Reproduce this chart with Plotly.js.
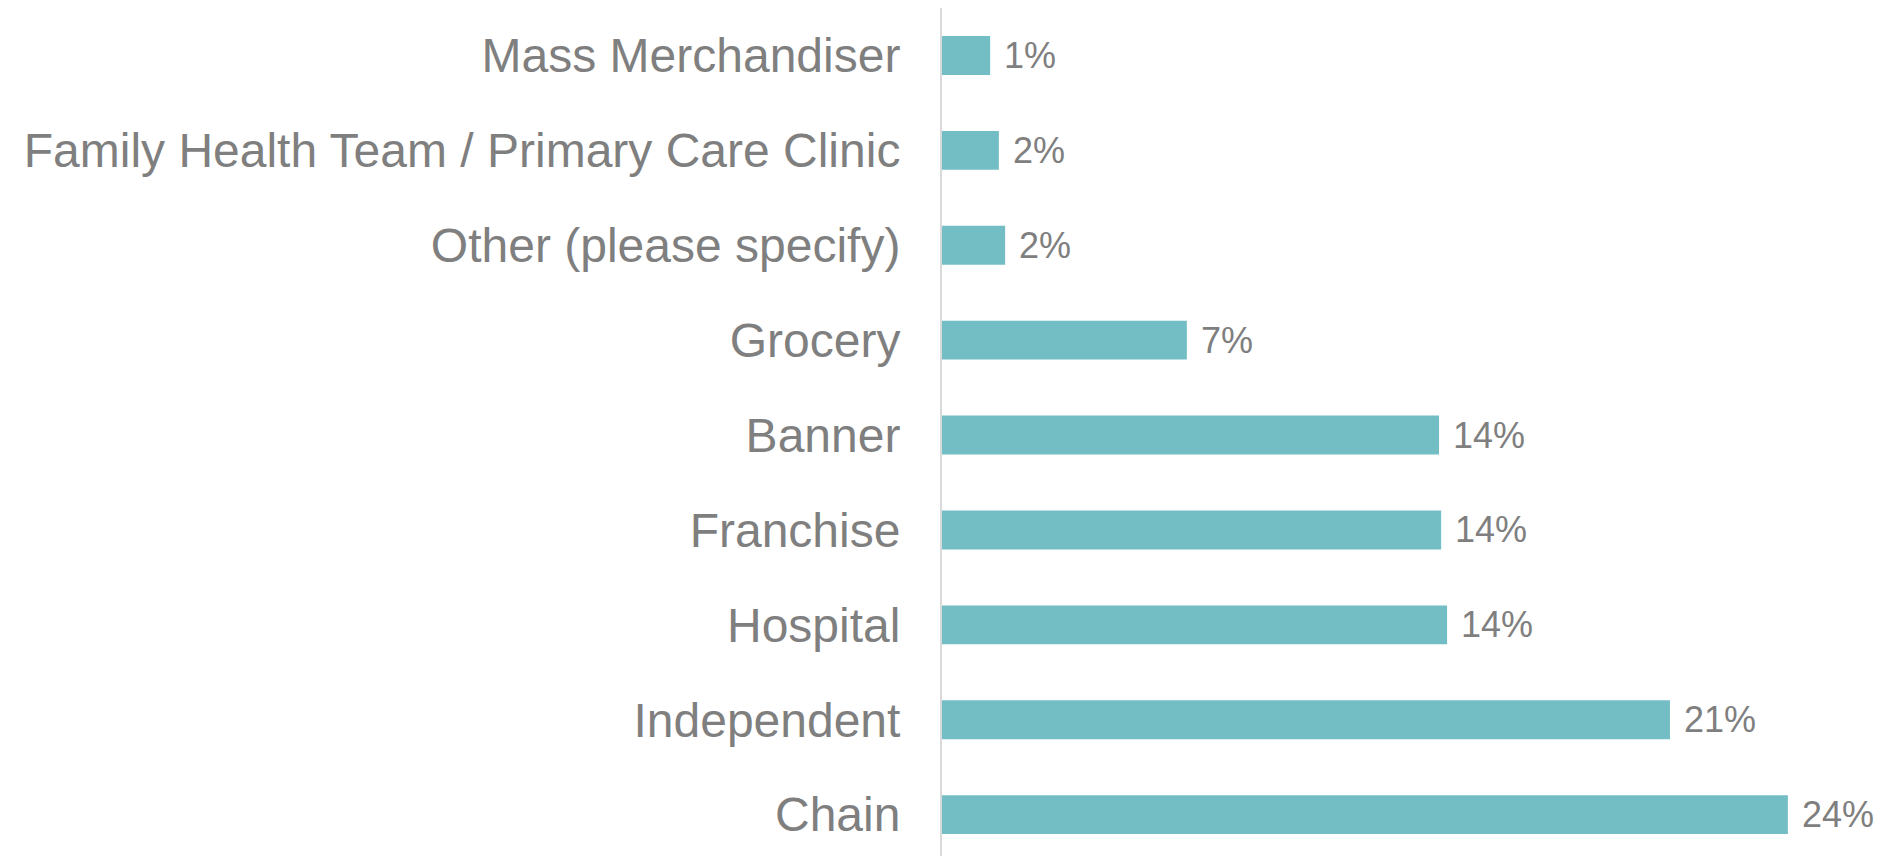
<!DOCTYPE html>
<html>
<head>
<meta charset="utf-8">
<script src="https://cdn.plot.ly/plotly-3.0.1.min.js"></script>
<style>html,body{margin:0;padding:0;background:#fff;}#chart{width:1881px;height:856px;}</style>
</head>
<body>
<div id="chart"></div>
<script>
// Categories from bottom to top
const categories = ["Chain", "Independent", "Hospital", "Franchise", "Banner", "Grocery", "Other (please specify)", "Family Health Team / Primary Care Clinic", "Mass Merchandiser"];
const values = [24.25, 20.87, 14.48, 14.31, 14.25, 7.02, 1.81, 1.63, 1.38];
const labels = ["24%", "21%", "14%", "14%", "14%", "7%", "2%", "2%", "1%"];

const trace = {
  type: 'bar',
  orientation: 'h',
  x: values,
  y: categories,
  marker: {color: '#73BEC4'},
  hoverinfo: 'none'
};

const annotations = categories.map((c, i) => ({
  x: values[i], y: c, xref: 'x', yref: 'y',
  text: labels[i], showarrow: false,
  xanchor: 'left', yanchor: 'middle', xshift: 12,
  font: {family: 'Liberation Sans, Arial, sans-serif', size: 36, color: '#7f7f7f'}
}));

const layout = {
  width: 1881, height: 856,
  margin: {l: 942, r: 0, t: 8, b: 0, pad: 0},
  paper_bgcolor: '#fff', plot_bgcolor: '#fff',
  showlegend: false,
  bargap: 0.59,
  xaxis: {range: [0, 26.92], showgrid: false, zeroline: false, showline: false, showticklabels: false, ticks: ''},
  yaxis: {
    type: 'category', range: [-0.436, 8.5],
    showgrid: false, zeroline: false,
    showline: true, linecolor: '#d9d9d9', linewidth: 2,
    ticks: '', ticklabelstandoff: 30,
    tickfont: {family: 'Liberation Sans, Arial, sans-serif', size: 48, color: '#7f7f7f'}
  },
  annotations: annotations
};

Plotly.newPlot('chart', [trace], layout, {staticPlot: true, displayModeBar: false});
</script>
</body>
</html>
